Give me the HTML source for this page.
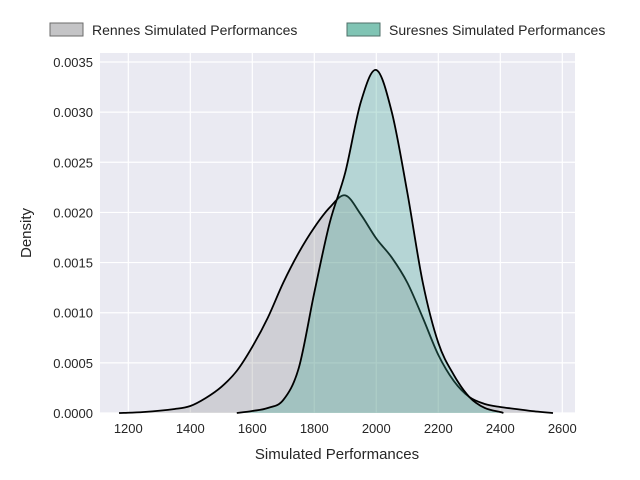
<!DOCTYPE html>
<html><head><meta charset="utf-8">
<style>
body{margin:0;background:#fff;}
svg{display:block;font-family:"Liberation Sans","DejaVu Sans",sans-serif;}
</style></head>
<body>
<svg id="chart" width="640" height="480">
  <rect x="100" y="53" width="475" height="360" fill="#eaeaf2"/>
  <g id="grid"></g>
  <g id="series"></g>
  <g id="ticks"></g>
  <text x="337" y="459" text-anchor="middle" font-size="15" fill="#262626">Simulated Performances</text>
  <text transform="translate(31,233) rotate(-90)" text-anchor="middle" font-size="15" fill="#262626">Density</text>
  <g>
    <g>
      <rect x="50" y="23" width="33" height="13" fill="#c4c4c6" stroke="#6b6b6b" stroke-width="1"/>
      <text x="92" y="35" font-size="14" fill="#262626">Rennes Simulated Performances</text>
    </g>
    <g>
      <rect x="347" y="23" width="33" height="13" fill="#80c4b4" stroke="#4f6f68" stroke-width="1"/>
      <text x="389" y="35" font-size="14" fill="#262626">Suresnes Simulated Performances</text>
    </g>
  </g>
</svg>
<script>
const xTicks=[1200,1400,1600,1800,2000,2200,2400,2600];
const yTicks=[0,0.0005,0.001,0.0015,0.002,0.0025,0.003,0.0035];
const yTickLabels=["0.0000","0.0005","0.0010","0.0015","0.0020","0.0025","0.0030","0.0035"];
const rennesX=[1170,1250,1350,1400,1450,1500,1550,1600,1650,1700,1750,1800,1850,1900,1950,2000,2050,2100,2150,2200,2250,2300,2350,2400,2450,2500,2570];
const rennesY=[0,0.00001,0.00004,0.00007,0.00015,0.00026,0.00042,0.00066,0.00095,0.0013,0.0016,0.00185,0.00205,0.00217,0.00198,0.00174,0.00155,0.0013,0.00095,0.00058,0.00032,0.00016,0.00009,0.00006,0.00004,0.00002,0];
const suresnesX=[1550,1600,1650,1700,1750,1800,1850,1900,1950,2000,2050,2100,2150,2200,2250,2300,2350,2400,2410];
const suresnesY=[0,0.00002,0.00005,0.00013,0.00045,0.0012,0.0019,0.0024,0.0031,0.00342,0.0030,0.0022,0.0013,0.0007,0.00038,0.00016,0.00005,0.00001,0];
const X=v=>128.3+(v-1200)*0.31;
const Y=v=>413-v*(351/0.0035);
const NS="http://www.w3.org/2000/svg";
const grid=document.getElementById('grid'),ticks=document.getElementById('ticks'),series=document.getElementById('series');
function mk(tag,attrs,parent){const e=document.createElementNS(NS,tag);for(const k in attrs)e.setAttribute(k,attrs[k]);parent.appendChild(e);return e;}
xTicks.forEach(t=>{
  const l=mk('line',{x1:X(t),x2:X(t),y1:53,y2:413,stroke:'#fff','stroke-width':1.2},grid);
  
  
  const tx=mk('text',{x:X(t),y:433,'text-anchor':'middle','font-size':13,fill:'#262626'},ticks);
  tx.textContent=t;
  
  
});
yTicks.forEach((t,i)=>{
  const l=mk('line',{x1:100,x2:575,y1:Y(t),y2:Y(t),stroke:'#fff','stroke-width':1.2},grid);
  
  
  const tx=mk('text',{x:93,y:Y(t)+5,'text-anchor':'end','font-size':13,fill:'#262626'},ticks);
  tx.textContent=yTickLabels[i];
  
  
});
function smooth(xs,ys){
  const p=xs.map((x,i)=>[X(x),Y(ys[i])]);
  let d=`M${p[0][0]},${p[0][1]}`;
  for(let i=0;i<p.length-1;i++){
    const p0=p[Math.max(0,i-1)],p1=p[i],p2=p[i+1],p3=p[Math.min(p.length-1,i+2)];
    const c1=[p1[0]+(p2[0]-p0[0])/6,p1[1]+(p2[1]-p0[1])/6];
    const c2=[p2[0]-(p3[0]-p1[0])/6,p2[1]-(p3[1]-p1[1])/6];
    d+=` C${c1[0]},${Math.min(413,c1[1])} ${c2[0]},${Math.min(413,c2[1])} ${p2[0]},${p2[1]}`;
  }
  return d;
}
function drawKde(xs,ys,fill,op,name){
  const d=smooth(xs,ys);
  const a=mk('path',{d:d+` L${X(xs[xs.length-1])},413 L${X(xs[0])},413 Z`,fill:fill,'fill-opacity':op,stroke:'none'},series);
  
  
  const l=mk('path',{d:d,fill:'none',stroke:'#000','stroke-width':1.8},series);
  
  
}
drawKde(rennesX,rennesY,'#808080',0.25,'rennes-kde');
drawKde(suresnesX,suresnesY,'#3aa593',0.3,'suresnes-kde');
</script>
</body></html>
